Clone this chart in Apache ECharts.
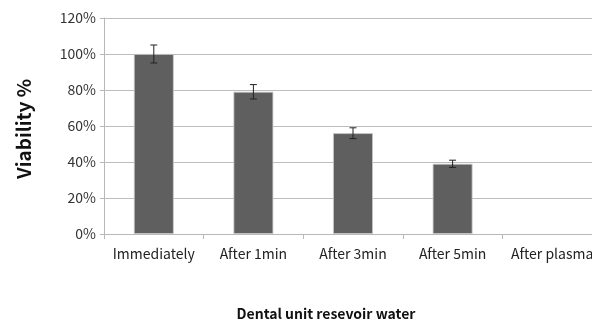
<!DOCTYPE html>
<html>
<head>
<meta charset="utf-8">
<script src="https://cdn.jsdelivr.net/npm/echarts@6/dist/echarts.min.js"></script>
<style>
  html, body { margin: 0; padding: 0; background: #fff; }
  #chart { width: 592px; height: 322px; }
</style>
</head>
<body>
<div id="chart"></div>
<script>
// 資料
const categories = ['Immediately', 'After 1min', 'After 3min', 'After 5min', 'After plasma'];
const viability = [100, 79, 56, 39, 0];
const errors = [5, 4, 3, 2, 0];
const yTicks = [0, 20, 40, 60, 80, 100, 120];

const FONT = '"Noto Sans CJK KR", "Open Sans", sans-serif';
const chart = echarts.init(document.getElementById('chart'));

// 誤差線資料 [x, 低, 高]
const errData = categories.map((c, i) => [i, viability[i] - errors[i], viability[i] + errors[i]])
    .filter(d => d[2] > d[1]);

chart.setOption({
    animation: false,
    grid: { left: 104, right: -10, top: 18, bottom: 88, outerBoundsMode: 'none', containLabel: false },
    xAxis: {
        type: 'category',
        data: categories,
        axisLine: { lineStyle: { color: '#b8b8b8' } },
        axisTick: { show: true, alignWithLabel: false, interval: 0, length: 5, lineStyle: { color: '#b8b8b8' } },
        axisLabel: { color: '#222', fontSize: 14, fontFamily: FONT, margin: 13, interval: 0, hideOverlap: false }
    },
    yAxis: {
        type: 'value',
        min: yTicks[0],
        max: yTicks[yTicks.length - 1],
        interval: 20,
        axisLine: { show: true, lineStyle: { color: '#b8b8b8' } },
        axisTick: { show: true, length: 4, lineStyle: { color: '#b8b8b8' } },
        axisLabel: { color: '#333', fontSize: 14, fontFamily: FONT, margin: 8, formatter: v => v + '%' },
        splitLine: { lineStyle: { color: '#bdbdbd' } }
    },
    series: [
        {
            type: 'bar',
            data: viability.map(v => ({ value: v, itemStyle: { borderWidth: v > 0 ? 0.8 : 0 } })),
            barWidth: '40%',
            itemStyle: { color: '#5f5f5f', borderColor: '#c8c8c8' }
        },
        {
            type: 'custom',
            data: errData,
            z: 10,
            renderItem: (params, api) => {
                const x = api.value(0);
                const lo = api.coord([x, api.value(1)]);
                const hi = api.coord([x, api.value(2)]);
                const cap = 3.5;
                const style = { stroke: '#222', lineWidth: 1 };
                return {
                    type: 'group',
                    children: [
                        { type: 'line', shape: { x1: hi[0], y1: hi[1], x2: lo[0], y2: lo[1] }, style },
                        { type: 'line', shape: { x1: hi[0] - cap, y1: hi[1], x2: hi[0] + cap, y2: hi[1] }, style },
                        { type: 'line', shape: { x1: lo[0] - cap, y1: lo[1], x2: lo[0] + cap, y2: lo[1] }, style }
                    ]
                };
            }
        }
    ],
    graphic: [
        {
            type: 'text',
            x: 24, y: 129,
            rotation: Math.PI / 2,
            style: { text: 'Viability %', font: 'bold 19px ' + FONT, fill: '#111', align: 'center', verticalAlign: 'middle' }
        },
        {
            type: 'text',
            x: 326, y: 314,
            style: { text: 'Dental unit resevoir water', font: 'bold 14px ' + FONT, fill: '#111', align: 'center', verticalAlign: 'middle' }
        }
    ]
});
</script>
</body>
</html>
